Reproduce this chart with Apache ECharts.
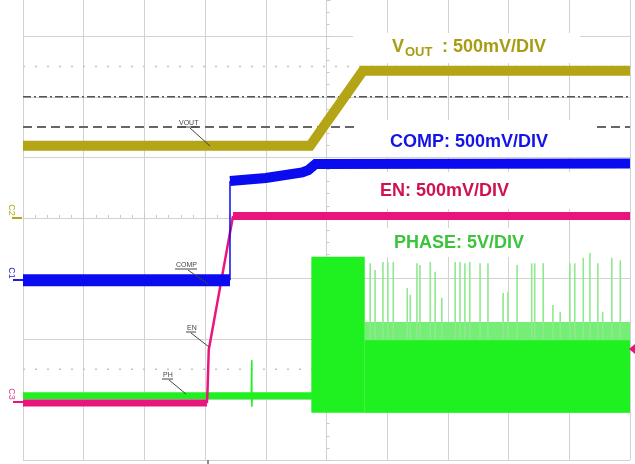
<!DOCTYPE html>
<html><head><meta charset="utf-8">
<script src="https://cdn.jsdelivr.net/npm/echarts@6/dist/echarts.min.js"></script>
<style>html,body{margin:0;padding:0;background:#fff}#c{width:635px;height:464px}</style>
</head><body><div id="c"></div>
<script>
// Units: oscilloscope divisions, origin at the screen centre
const xRange = [-5, 5];
const yRange = [-4, 3.6];

const voutTrace = [[-5,1.19],[-0.27,1.19],[0.60,2.43],[5,2.43]];

const compLow  = [[-5,-1.03],[-1.59,-1.03]];
const compEdge = [[-1.59,-1.03],[-1.59,0.61]];
const compHigh = [[-1.59,0.61],[-1.0,0.66],[-0.40,0.75],[-0.30,0.79],[-0.18,0.89],[5,0.90]];

const enLow  = [[-5,-3.06],[-1.97,-3.06]];
const enEdge = [[-1.97,-3.06],[-1.96,-2.85],[-1.94,-2.18],[-1.54,0.03]];
const enHigh = [[-1.54,0.03],[5,0.03]];

const phaseIdle   = [[-5,-2.94],[-0.24,-2.94]];
const phaseGlitch = [[-1.24,-2.94],[-1.23,-2.35],[-1.23,-3.12],[-1.22,-2.94]];
// [x0, x1, low, high]
const phaseBurstSolid = [[-0.25,0.63,-3.22,-0.64],[0.63,5,-3.22,-2.02]];
const phaseBurstLight = [[0.63,5,-3.22,-1.72]];
// [x, top]
const phaseSpikes = [
 [0.72,-0.75],[0.80,-0.86],[0.93,-0.73],[1.01,-0.73],[1.10,-0.73],[1.33,-1.16],[1.38,-1.27],
 [1.49,-0.75],[1.54,-0.78],[1.71,-0.73],[1.79,-0.89],[1.90,-1.32],[2.12,-0.73],[2.20,-0.73],
 [2.28,-0.75],[2.36,-0.73],[2.53,-0.75],[2.66,-0.75],[2.91,-1.24],[2.99,-1.22],[3.14,-0.78],
 [3.38,-0.75],[3.43,-0.75],[3.57,-0.75],[3.73,-1.44],[3.85,-1.55],[4.01,-0.75],[4.09,-0.75],
 [4.23,-0.66],[4.34,-0.58],[4.47,-0.75],[4.55,-1.55],[4.70,-0.66],[4.84,-0.70]
];

const dashDotLevel = 2.0;
const dashedLevel = 1.5;
const dottedLevels = [2.5, -2.5];

const C_VOUT = '#b3a515', C_COMP = '#0b0bef', C_EN = '#e9157d', C_PH = '#1ff01f';
const FONT = '"Liberation Sans", Arial, sans-serif';
const GRID = '#d2d2d2';

function line(name, data, color, width, z) {
  return { name, type: 'line', data, showSymbol: false, symbol: 'none', animation: false,
    lineStyle: { color, width, cap: 'butt', join: 'miter' }, z: z == null ? 2 : z, silent: true };
}
function bandSeries(data, fill) {
  return { type: 'custom', data, animation: false, silent: true, clip: true,
    encode: { x: [0, 1], y: [2, 3] },
    renderItem: (p, api) => {
      const a = api.coord([api.value(0), api.value(3)]);
      const b = api.coord([api.value(1), api.value(2)]);
      return { type: 'rect', shape: { x: a[0], y: a[1], width: b[0] - a[0], height: b[1] - a[1] }, style: { fill } };
    } };
}
function refLine(level, color, width, dash) {
  return { type: 'line', data: [[xRange[0], level], [xRange[1], level]], showSymbol: false, symbol: 'none',
    animation: false, silent: true, z: 0, lineStyle: { color, width, type: dash } };
}

const series = [
  refLine(dashDotLevel, '#555', 1.5, [8, 3, 2, 3]),
  refLine(dashedLevel, '#666', 2, [9, 5]),
  ...dottedLevels.map(l => refLine(l, '#c4c4c4', 1.5, [2, 10])),
  bandSeries(phaseBurstLight, '#74ee74'),
  bandSeries(phaseBurstSolid, C_PH),
  { type: 'custom', data: phaseSpikes, animation: false, silent: true, clip: true,
    encode: { x: 0, y: 1 },
    renderItem: (p, api) => {
      const a = api.coord([api.value(0), -2.0]);
      const b = api.coord([api.value(0), api.value(1)]);
      return { type: 'line', shape: { x1: a[0], y1: a[1], x2: b[0], y2: b[1] }, style: { stroke: '#8fe98f', lineWidth: 1.6 } };
    } },
  line('PH', phaseIdle, C_PH, 7),
  line('PHg', phaseGlitch, C_PH, 1.5),
  line('ENl', enLow, C_EN, 7),
  line('ENe', enEdge, C_EN, 2.5),
  line('ENh', enHigh, C_EN, 8),
  line('COMPl', compLow, C_COMP, 12),
  line('COMPe', compEdge, C_COMP, 1.5),
  line('COMPh', compHigh, C_COMP, 10),
  line('VOUT', voutTrace, C_VOUT, 10)
];

function axisCommon() {
  return {
    type: 'value', interval: 1,
    axisLabel: { show: false },
    axisLine: { show: true, onZero: true, lineStyle: { color: GRID, width: 1 } },
    axisTick: { show: true, inside: true, length: 4, lineStyle: { color: '#c8c8c8' } },
    minorTick: { show: true, splitNumber: 5, length: 3, lineStyle: { color: '#c8c8c8' } },
    splitLine: { show: true, lineStyle: { color: GRID, width: 1 } }
  };
}
const xAxis = Object.assign(axisCommon(), { min: xRange[0], max: xRange[1] });
const yAxis = Object.assign(axisCommon(), { min: yRange[0], max: yRange[1] });
yAxis.splitLine.showMaxLine = false;

function txt(x, y, text, color, size, extra) {
  return Object.assign({ type: 'text', x, y, z: 10, silent: true,
    style: { text, fill: color, font: 'bold ' + size + 'px ' + FONT, textVerticalAlign: 'middle', textAlign: 'left' } }, extra || {});
}
function box(x, y, w, h) {
  return { type: 'rect', z: 1, silent: true, shape: { x, y, width: w, height: h }, style: { fill: '#ffffff' } };
}
function small(x, y, text) {
  return { type: 'text', x, y, z: 10, silent: true,
    style: { text, fill: '#444', font: '7px ' + FONT, textVerticalAlign: 'middle', textAlign: 'left' } };
}
function seg(x1, y1, x2, y2, color, w) {
  return { type: 'line', z: 10, silent: true, shape: { x1, y1, x2, y2 }, style: { stroke: color || '#444', lineWidth: w || 1 } };
}
function chLabel(y, text, color) {
  return { type: 'text', x: 11, y, rotation: -Math.PI / 2, z: 10, silent: true,
    style: { text, fill: color, font: '9px ' + FONT, textVerticalAlign: 'middle', textAlign: 'center' } };
}

const graphic = [
  box(353, 33, 227, 30),
  box(358, 120, 239, 37),
  box(345, 172, 255, 37),
  box(375, 228, 172, 29),
  txt(392, 47, 'V', '#a89c14', 18),
  txt(405, 52, 'OUT', '#a89c14', 13),
  txt(442, 47, ': 500mV/DIV', '#a89c14', 18),
  txt(390, 142, 'COMP: 500mV/DIV', '#1414e6', 18),
  txt(380, 191, 'EN: 500mV/DIV', '#d0134f', 18),
  txt(394, 243, 'PHASE: 5V/DIV', '#3cc43c', 18),
  small(179, 123, 'VOUT'), seg(178, 127, 198, 127), seg(190, 128, 210, 146),
  small(176, 265, 'COMP'), seg(175, 269, 197, 269), seg(188, 270, 208, 284),
  small(187, 328, 'EN'), seg(186, 332, 196, 332), seg(191, 333, 209, 347),
  small(163, 375, 'PH'), seg(162, 379, 173, 379), seg(169, 380, 186, 394),
  chLabel(210, 'C2', '#b3a515'), seg(12, 218, 22, 218, '#b3a515', 2),
  chLabel(273, 'C1', '#2020d0'), seg(13, 280, 23, 280, '#2020d0', 2),
  chLabel(394, 'C3', '#e0409a'), seg(13, 402, 23, 402, '#e9157d', 2),
  seg(208, 460, 208, 464, '#666', 1.5),
  { type: 'polygon', z: 10, silent: true, shape: { points: [[635, 344], [629, 349], [635, 354]] }, style: { fill: '#e9157d' } }
];

const chart = echarts.init(document.getElementById('c'), null, { renderer: 'canvas' });
chart.setOption({
  animation: false,
  backgroundColor: '#ffffff',
  grid: { left: 23, right: 5, top: 0, bottom: 4, containLabel: false },
  xAxis, yAxis, series, graphic
});
</script></body></html>
